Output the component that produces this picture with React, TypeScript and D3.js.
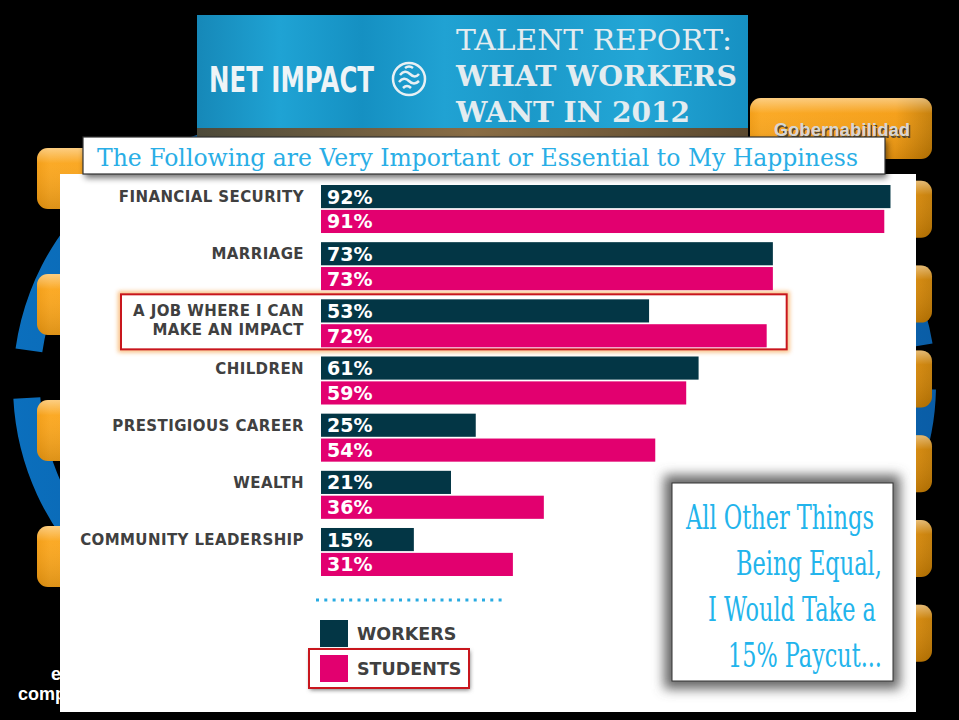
import React, { useLayoutEffect, useRef, useState } from "react";
import * as d3 from "d3";

// survey data (Net Impact talent report 2012)
const categories = [
  "FINANCIAL SECURITY",
  "MARRIAGE",
  "A JOB WHERE I CAN|MAKE AN IMPACT",
  "CHILDREN",
  "PRESTIGIOUS CAREER",
  "WEALTH",
  "COMMUNITY LEADERSHIP",
];
const workers = [92, 73, 53, 61, 25, 21, 15];
const students = [91, 73, 72, 59, 54, 36, 31];
const seriesNames = ["WORKERS", "STUDENTS"];
const highlighted = "A JOB WHERE I CAN|MAKE AN IMPACT";

const title = "The Following are Very Important or Essential to My Happiness";
const bannerLines = ["TALENT REPORT:", "WHAT WORKERS", "WANT IN 2012"];
const calloutLines = ["All Other Things", "Being Equal,", "I Would Take a", "15% Paycut..."];

const W = 959;
const H = 720;
const colors = { WORKERS: "#033645", STUDENTS: "#e2006f" };

export default function App() {
  const x = d3.scaleLinear().domain([0, 100]).range([321, 940]);
  const y = d3.scaleBand().domain(categories).range([185, 576]).paddingInner(0.16);
  const ySub = d3.scaleBand().domain(seriesNames).range([0, y.bandwidth()]).paddingInner(0.07);

  const rows = categories.map((c, i) => ({ cat: c, WORKERS: workers[i], STUDENTS: students[i] }));

  // decorative rings of the slide template
  const ring = (r0, r1) => d3.arc().innerRadius(r0).outerRadius(r1);
  const deg = (a) => (a * Math.PI) / 180;
  const leftRing = [[180, 267], [278, 380]];
  const rightRing = [[20, 80.5], [91, 170]];

  const leftBoxes = d3.range(4).map((i) => 148 + i * 126);
  const rightBoxes = d3.range(1, 7).map((i) => 96 + i * 84.8);

  const hi = rows.find((r) => r.cat === highlighted);
  const hiY = y(highlighted);

  // callout text is squeezed to the widths seen in the slide (condensed slab face)
  const callX = [686, 736, 708, 728];
  const callW = [188, 146, 168, 154];
  const callRefs = useRef([]);
  const [callScale, setCallScale] = useState([1, 1, 1, 1]);
  useLayoutEffect(() => {
    const s = callRefs.current.map((el, i) => (el ? callW[i] / el.getComputedTextLength() : 1));
    setCallScale(s);
  }, []);

  return (
    <div style={{ position: "absolute", left: 0, top: 0 }}>
      <svg width={W} height={H} style={{ display: "block" }}>
        <defs>
          <linearGradient id="orange" x1="0" x2="1" y1="0" y2="0">
            <stop offset="0" stopColor="#f29a0e" />
            <stop offset="0.06" stopColor="#fba61c" />
            <stop offset="0.8" stopColor="#f59c10" />
            <stop offset="1" stopColor="#c27a02" />
          </linearGradient>
          <linearGradient id="gloss" x1="0" x2="0" y1="0" y2="1">
            <stop offset="0" stopColor="#fff" stopOpacity="0.45" />
            <stop offset="0.25" stopColor="#fff" stopOpacity="0.05" />
            <stop offset="1" stopColor="#000" stopOpacity="0.12" />
          </linearGradient>
          <linearGradient id="banner" x1="0" x2="1" y1="0" y2="0">
            <stop offset="0" stopColor="#1688b8" />
            <stop offset="0.15" stopColor="#1fa3d4" />
            <stop offset="0.3" stopColor="#1590c2" />
            <stop offset="0.45" stopColor="#20a2d3" />
            <stop offset="0.6" stopColor="#1b99c9" />
            <stop offset="0.8" stopColor="#23a6d6" />
            <stop offset="1" stopColor="#1690c2" />
          </linearGradient>
          <linearGradient id="strip" x1="0" x2="1" y1="0" y2="0">
            <stop offset="0" stopColor="#4d4a3a" />
            <stop offset="0.5" stopColor="#8a6d45" />
            <stop offset="1" stopColor="#5c4a30" />
          </linearGradient>
          <linearGradient id="blue" x1="0" x2="1" y1="0" y2="0">
            <stop offset="0" stopColor="#0b6fbd" />
            <stop offset="1" stopColor="#0a5da6" />
          </linearGradient>
          <filter id="blur6" x="-20%" y="-20%" width="140%" height="140%">
            <feGaussianBlur stdDeviation="6" />
          </filter>
          <filter id="blur3" x="-20%" y="-20%" width="140%" height="140%">
            <feGaussianBlur stdDeviation="3" />
          </filter>
          <filter id="blur2" x="-20%" y="-20%" width="140%" height="140%">
            <feGaussianBlur stdDeviation="2" />
          </filter>
        </defs>

        <rect width={W} height={H} fill="#000" />

        {/* blue rings */}
        <g transform="translate(275,385)">
          {leftRing.map(([a, b], i) => (
            <path key={i} d={ring(235, 262)({ startAngle: deg(a), endAngle: deg(b) })} fill="url(#blue)" />
          ))}
        </g>
        <g transform="translate(684,385)">
          {rightRing.map(([a, b], i) => (
            <path key={i} d={ring(226, 252)({ startAngle: deg(a), endAngle: deg(b) })} fill="url(#blue)" />
          ))}
        </g>

        {/* orange tabs */}
        {leftBoxes.map((by, i) => (
          <g key={"l" + i}>
            <rect x={37} y={by} width={220} height={61} rx={11} fill="url(#orange)" />
            <rect x={37} y={by} width={220} height={61} rx={11} fill="url(#gloss)" />
          </g>
        ))}
        {rightBoxes.map((by, i) => (
          <g key={"r" + i}>
            <rect x={712} y={by} width={220} height={57} rx={11} fill="url(#orange)" />
            <rect x={712} y={by} width={220} height={57} rx={11} fill="url(#gloss)" />
          </g>
        ))}
        <rect x={750} y={98} width={182} height={61} rx={11} fill="url(#orange)" />
        <rect x={750} y={98} width={182} height={61} rx={11} fill="url(#gloss)" />
        <text x={774} y={136} fontFamily="Liberation Sans, Arial, sans-serif" fontWeight="bold" fontSize={18}
          textLength={136} fill="#333" opacity={0.8} transform="translate(1.5,1.5)">Gobernabilidad</text>
        <text x={774} y={136} fontFamily="Liberation Sans, Arial, sans-serif" fontWeight="bold" fontSize={18}
          textLength={136} fill="#d6d6d6">Gobernabilidad</text>

        <text x={51} y={680} fill="#fff" fontFamily="Liberation Sans, Arial, sans-serif" fontWeight="bold" fontSize={18}>e</text>
        <text x={18} y={700} fill="#fff" fontFamily="Liberation Sans, Arial, sans-serif" fontWeight="bold" fontSize={18}>comp</text>

        {/* banner */}
        <rect x={197} y={15} width={551} height={114} fill="url(#banner)" />
        <rect x={197} y={128} width={551} height={10} fill="url(#strip)" />
        <text x={209} y={92} fill="#eef4f7" fontFamily="DejaVu Sans, sans-serif" fontWeight="bold" fontSize={35}
          textLength={165} lengthAdjust="spacingAndGlyphs">NET IMPACT</text>
        <g transform="translate(409,79)" fill="none" stroke="#e8f0f4" strokeWidth={2.5}>
          <circle r={16} />
          <path d="M-9,-4 Q-4,-10 1,-5 Q6,0 10,-5" />
          <path d="M-10,3 Q-5,-3 0,2 Q5,7 10,2" />
          <path d="M-6,9 Q-2,5 2,9" />
          <path d="M-4,-11 Q0,-14 4,-11" />
        </g>
        {bannerLines.map((t, i) => (
          <text key={t} x={456} y={50 + i * 36} fill="#e3ecf0" fontFamily="DejaVu Serif, serif"
            fontWeight={i === 0 ? "normal" : "bold"} fontSize={27}
            textLength={[276, 281, 234][i]} lengthAdjust="spacingAndGlyphs">{t}</text>
        ))}

        {/* white panel */}
        <rect x={60} y={174} width={856} height={538} fill="#fff" />

        {/* title box */}
        <rect x={85} y={141} width={802} height={37} fill="#000" opacity={0.55} filter="url(#blur3)" />
        <rect x={83} y={137} width={802} height={37} fill="#fff" stroke="#333" strokeWidth={1.2} />
        <text x={97} y={166} fill="#29aee6" fontFamily="DejaVu Serif, serif" fontSize={25}
          textLength={761} lengthAdjust="spacingAndGlyphs">{title}</text>

        {/* highlight of the job row */}
        <rect x={121} y={hiY - 5} width={x(Math.max(hi.WORKERS, hi.STUDENTS)) + 20 - 121} height={y.bandwidth() + 7}
          fill="none" stroke="#f6a24a" strokeWidth={6} opacity={0.7} filter="url(#blur2)" />
        <rect x={121} y={hiY - 5} width={x(Math.max(hi.WORKERS, hi.STUDENTS)) + 20 - 121} height={y.bandwidth() + 7}
          fill="#fff" stroke="#c8161d" strokeWidth={2} />

        {/* bars */}
        {rows.map((r) => (
          <g key={r.cat} transform={`translate(0,${y(r.cat)})`}>
            {seriesNames.map((s) => (
              <g key={s}>
                <rect x={x(0)} y={ySub(s)} width={x(r[s]) - x(0)} height={ySub.bandwidth()} fill={colors[s]} />
                <text x={x(0) + 6} y={ySub(s) + ySub.bandwidth() / 2 + 7} fill="#fff"
                  fontFamily="DejaVu Sans, sans-serif" fontWeight="bold" fontSize={19}>{r[s] + "%"}</text>
              </g>
            ))}
            {r.cat.split("|").map((line, k) => (
              <text key={k} x={304} y={ySub("WORKERS") + ySub.bandwidth() / 2 + 5.5 + k * 19} textAnchor="end"
                fill="#404040" fontFamily="DejaVu Sans, sans-serif" fontWeight="bold" fontSize={15}
                letterSpacing={0.4}>{line}</text>
            ))}
          </g>
        ))}

        {/* legend */}
        <line x1={316} x2={502} y1={600} y2={600} stroke="#29abe2" strokeWidth={3} strokeDasharray="3 5.3" />
        <rect x={310} y={651} width={160} height={39} fill="#777" filter="url(#blur2)" />
        <rect x={309} y={649} width={160} height={39} fill="#fff" stroke="#c8161d" strokeWidth={2} />
        {seriesNames.map((s, i) => (
          <g key={s} transform={`translate(320,${620 + i * 35})`}>
            <rect width={28} height={27} fill={colors[s]} />
            <text x={37} y={20} fill="#404040" fontFamily="DejaVu Sans, sans-serif" fontWeight="bold" fontSize={17.5}>{s}</text>
          </g>
        ))}

        {/* callout */}
        <rect x={664} y={475} width={236} height={214} fill="#666" filter="url(#blur6)" />
        <rect x={672} y={483} width={221} height={198} fill="#fff" stroke="#333" strokeWidth={1} />
        {calloutLines.map((t, i) => (
          <g key={t} transform={`translate(${callX[i]},${529 + i * 46}) scale(${callScale[i]},1)`}>
            <text ref={(el) => { callRefs.current[i] = el; }} x={0} y={0} fill="#22b4ec"
              fontFamily="DejaVu Serif, serif" fontSize={34}>{t}</text>
          </g>
        ))}
      </svg>
    </div>
  );
}
